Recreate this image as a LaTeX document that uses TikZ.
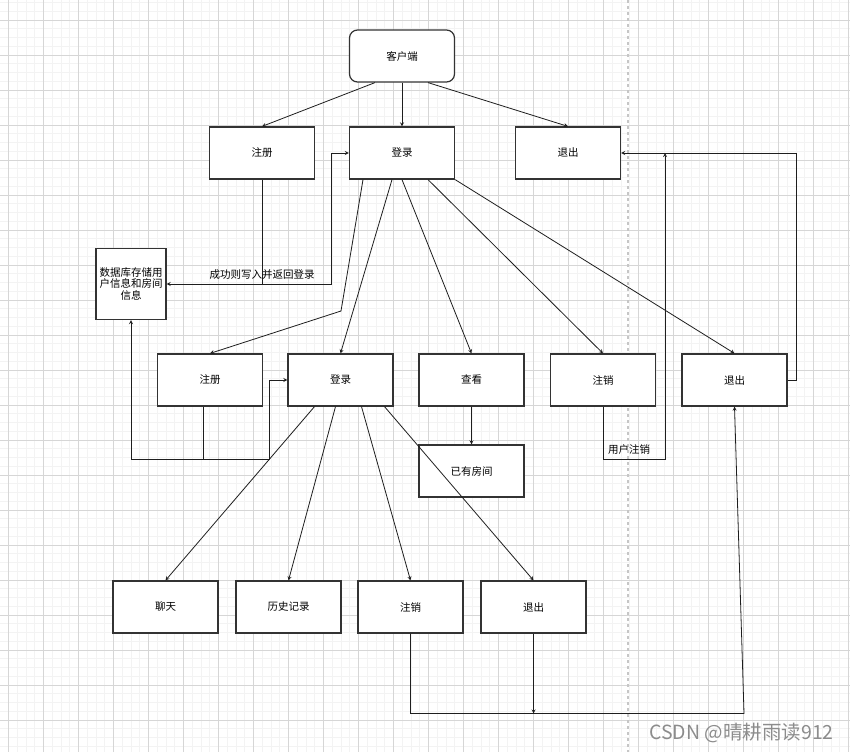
\documentclass[tikz,border=0pt]{standalone}
\usepackage{fontspec}
\setmainfont{Noto Sans CJK SC}
\usepackage{tikz}
\usetikzlibrary{shapes,arrows,positioning}
\definecolor{gridMinor}{RGB}{243,243,243}
\definecolor{gridMajor}{RGB}{214,214,214}
\definecolor{bordure}{RGB}{51,51,51}
\definecolor{fleche}{RGB}{30,30,30}
\definecolor{filigrane}{RGB}{140,140,140}

\begin{document}
\begin{tikzpicture}[x=1pt, y=-1pt,
			box/.style={draw=bordure, fill=white, line width=1.2pt, minimum width=105pt,
				minimum height=52pt, inner sep=0pt, font=\fontsize{10.5}{12}\selectfont},
			rbox/.style={box, rounded corners=8pt},
			dbbox/.style={box, minimum width=70pt, minimum height=71pt, text width=66pt,
				align=center, font=\fontsize{10.5}{11.5}\selectfont},
			arrow/.style={->, >=stealth, line width=0.8pt, color=fleche},
			lbl/.style={font=\fontsize{10.5}{12}\selectfont, inner sep=1pt}
			]
			% fond quadrille
			\fill[white] (0,0) rectangle (850,752);
			\useasboundingbox (0,0) rectangle (850,752);
			\foreach \i in {0,...,97} \draw[gridMinor, line width=0.6pt] ({\i*8.75-0.45},0) -- ({\i*8.75-0.45},752);
			\foreach \i in {0,...,86} \draw[gridMinor, line width=0.6pt] (0,{\i*8.75+2.5}) -- (850,{\i*8.75+2.5});
			\foreach \i in {0,...,24} \draw[gridMajor, line width=0.7pt] ({\i*35+8.3},0) -- ({\i*35+8.3},752);
			\foreach \i in {0,...,21} \draw[gridMajor, line width=0.7pt] (0,{\i*35+20}) -- (850,{\i*35+20});
			\draw[gray!45, dashed, line width=1.3pt] (628,0) -- (628,752);
			
			\node[rbox] (client) at (402,56)     {客户端};
			\node[box] (reg1) at (262,153)       {注册};
			\node[box] (login1) at (402,153)     {登录};
			\node[box] (quit1) at (568,153)      {退出};
			\node[dbbox] (db) at (131,284)       {数据库存储用\\户信息和房间\\信息};
			\node[box] (reg2) at (210,380)       {注册};
			\node[box] (login2) at (340.5,380)   {登录};
			\node[box] (view) at (471.5,380)     {查看};
			\node[box] (cancel2) at (603,380)    {注销};
			\node[box] (quit2) at (734.5,380)    {退出};
			\node[box] (rooms) at (471.5,471)    {已有房间};
			\node[box] (chat) at (165.5,607)     {聊天};
			\node[box] (history) at (288.5,607)  {历史记录};
			\node[box] (cancel3) at (410.5,607)  {注销};
			\node[box] (quit3) at (533.5,607)    {退出};
			
			\coordinate (split) at (reg1.south |- db.east);
			\coordinate (bend) at (341,311);
			\coordinate (j2) at (203,459);
			\coordinate (upend) at ([xshift=44pt]quit1.east);
			\coordinate (corner) at (744,713.5);
			
			\draw[arrow] ([xshift=-27pt]client.south) -- (reg1.north);
			\draw[arrow] (client) -- (login1);
			\draw[arrow] ([xshift=26pt]client.south) -- (quit1.north);
			
			\draw[arrow] (reg1.south) -- (split) -- (db.east);
			\draw[arrow] (split) -| ([xshift=-18pt]login1.west) -- (login1.west);
			\node[lbl] (msg) at ([yshift=9pt]split) {成功则写入并返回登录};
			
			\draw[arrow] ([xshift=-39pt]login1.south) -- (bend) -- (reg2.north);
			\draw[arrow] ([xshift=-10pt]login1.south) -- (login2.north);
			\draw[arrow] (login1.south) -- (view.north);
			\draw[arrow] ([xshift=26pt]login1.south) -- (cancel2.north);
			\draw[arrow] (login1.south east) -- (quit2.north);
			
			\draw[arrow] (view) -- (rooms);
			\draw[arrow] ([xshift=-7pt]reg2.south) -- (j2) -| (db.south);
			\draw[arrow] (j2) -| ([xshift=-18pt]login2.west) -- (login2.west);
			
			\draw[arrow] (cancel2.south) -- ++(0,53) -| (upend);
			\node[lbl] (usr) at (629,450) {用户注销};
			\draw[arrow] (quit2.east) -- ++(9,0) |- (quit1.east);
			
			\draw[arrow] ([xshift=-26pt]login2.south) -- (chat.north);
			\draw[arrow] ([xshift=-5pt]login2.south) -- (history.north);
			\draw[arrow] ([xshift=21pt]login2.south) -- (cancel3.north);
			\draw[arrow] ([xshift=44pt]login2.south) -- (quit3.north);
			
			\draw[arrow] (cancel3.south) |- (corner) -- (quit2.south);
			\draw[arrow] (quit3.south) -- (quit3.south |- corner);
			
			\node[font=\fontsize{19.5}{22}\selectfont, text=filigrane, inner sep=0pt] (mark) at (741.5,733) {CSDN @晴耕雨读912};
		\end{tikzpicture}
\end{document}
